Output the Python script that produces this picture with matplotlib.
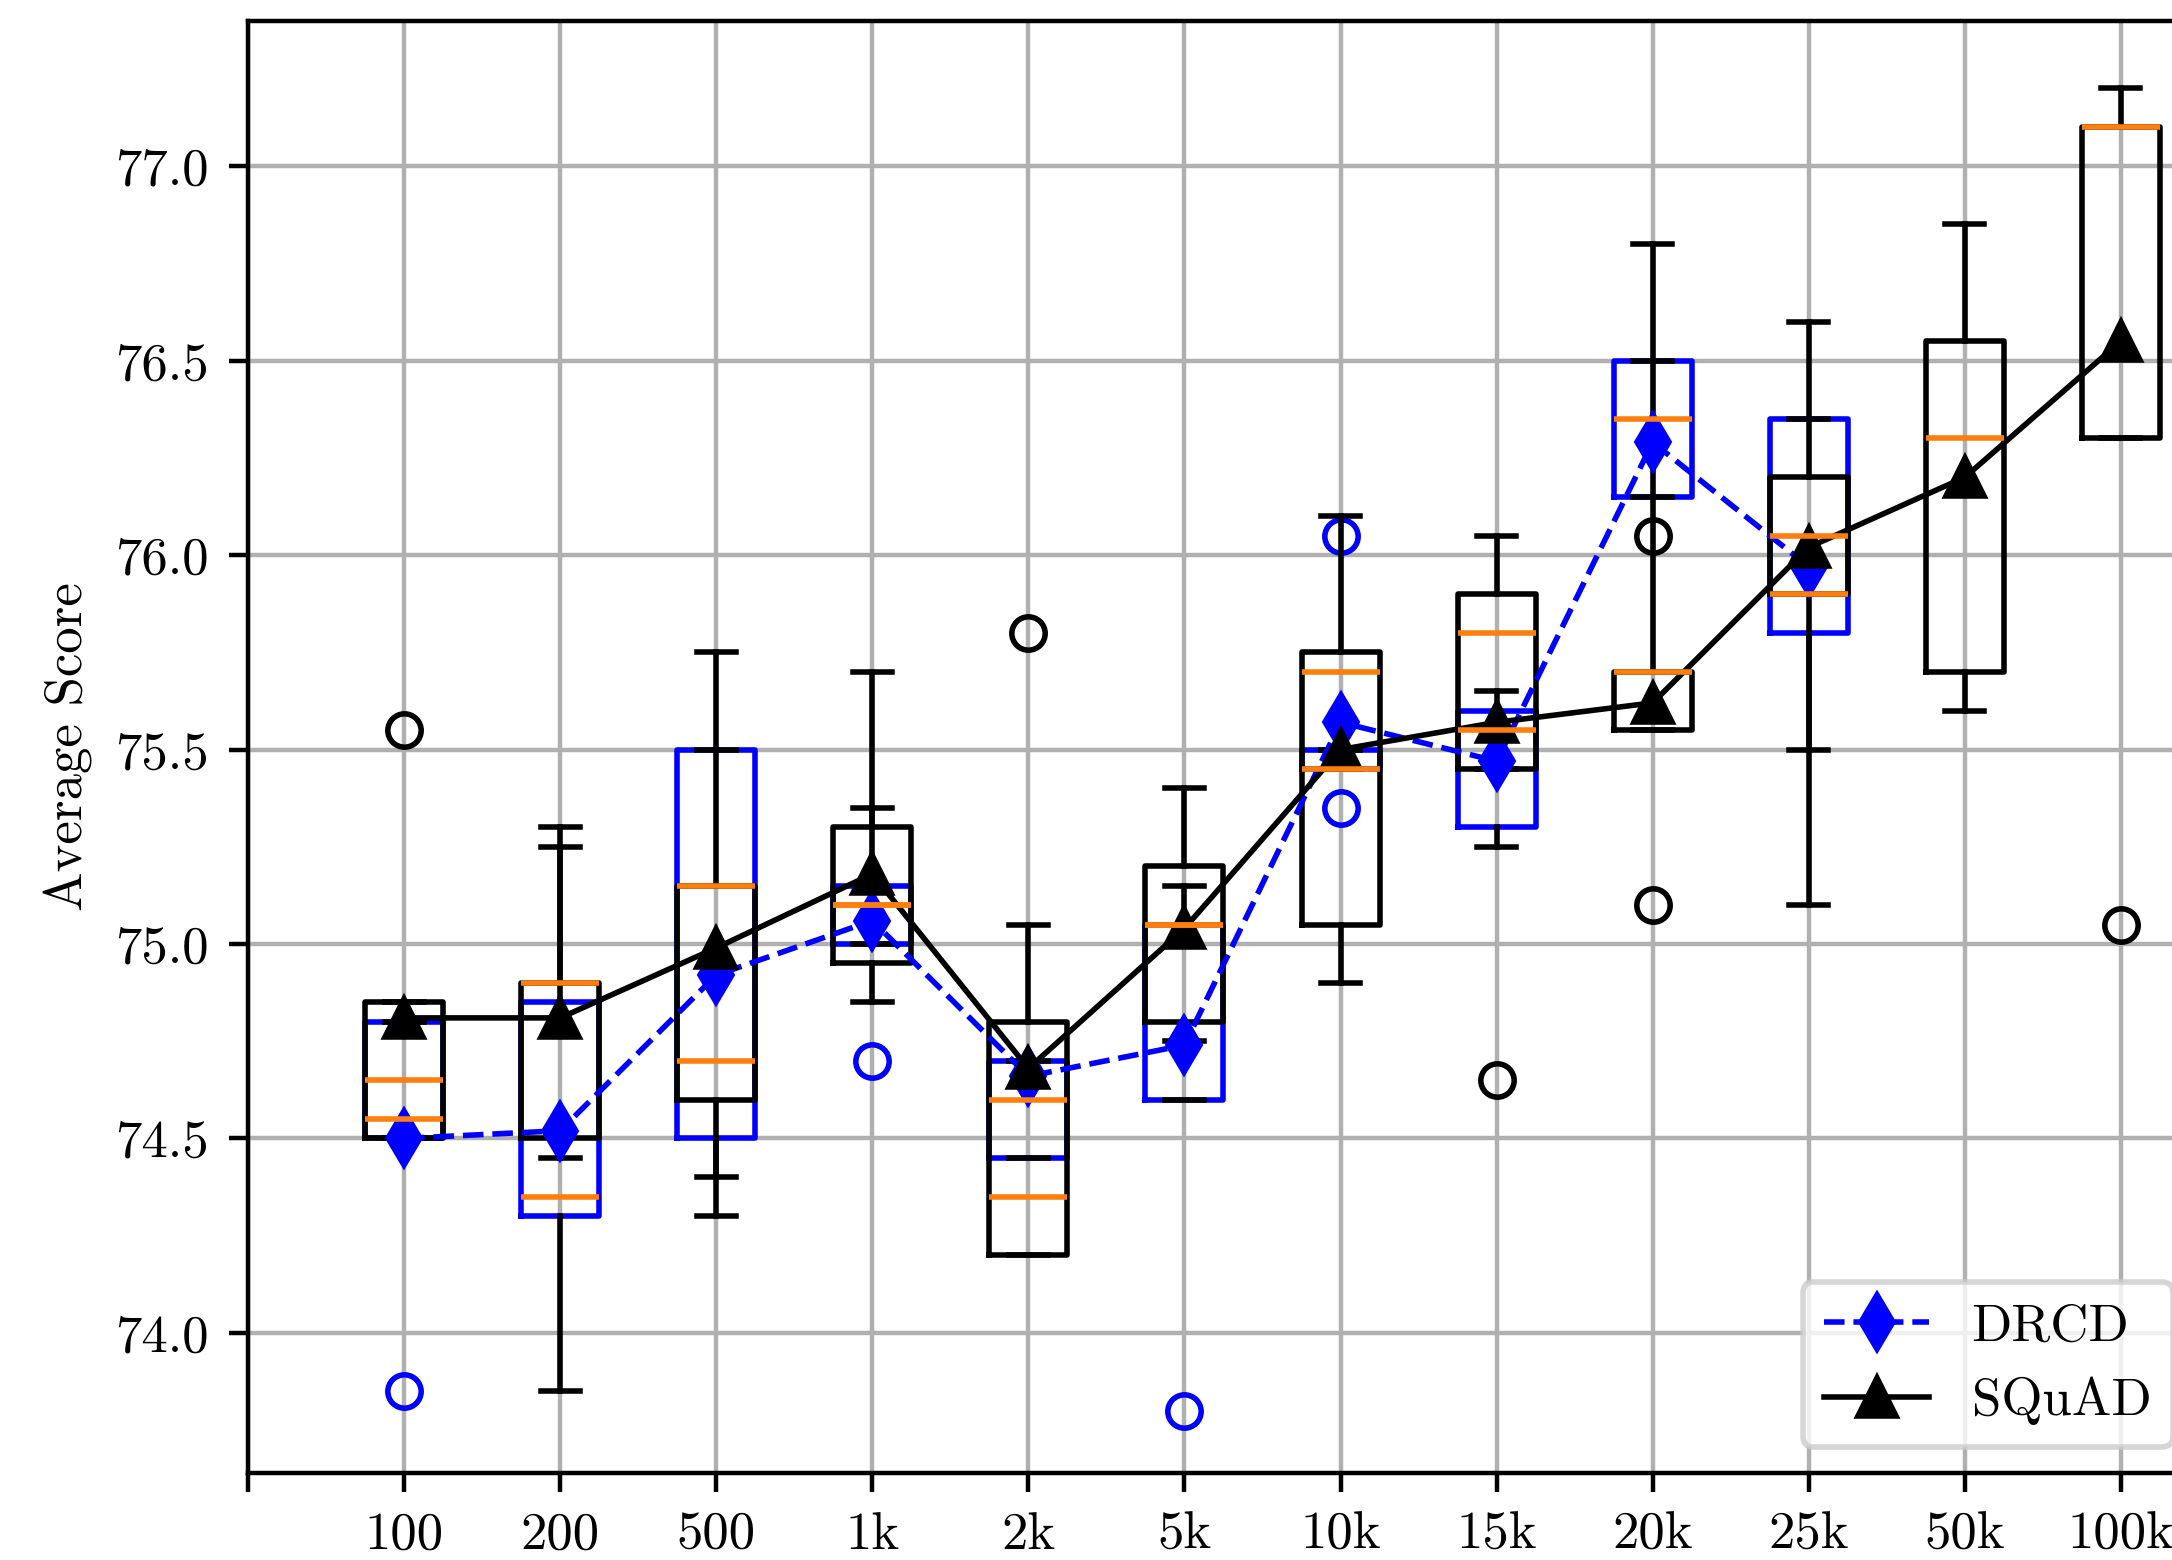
import numpy as np
import matplotlib
matplotlib.use("Agg")
import matplotlib.pyplot as plt
from matplotlib.ticker import FormatStrFormatter

plt.rcParams['font.family'] = 'serif'
plt.rcParams['font.serif'] = ['cmr10', 'DejaVu Serif']
plt.rcParams['mathtext.fontset'] = 'cm'
plt.rcParams['font.size'] = 9.5

# sizes of the training subsets
sizes = ['100', '200', '500', '1k', '2k', '5k', '10k', '15k', '20k', '25k', '50k', '100k']

# DRCD box statistics (no runs for 50k / 100k)
drcd_q1 = [74.5, 74.3, 74.5, 75.0, 74.45, 74.6, 75.45, 75.3, 76.15, 75.8]
drcd_med = [74.55, 74.35, 74.7, 75.1, 74.6, 75.05, 75.45, 75.55, 76.35, 76.05]
drcd_q3 = [74.8, 74.85, 75.5, 75.15, 74.7, 75.05, 75.5, 75.6, 76.5, 76.35]
drcd_lo = [74.5, 73.85, 74.3, 75.0, 74.45, 74.6, 75.45, 75.25, 76.15, 75.5]
drcd_hi = [74.8, 75.3, 75.5, 75.35, 74.7, 75.15, 75.5, 75.65, 76.5, 76.35]
drcd_fliers = [[73.85], [], [], [74.7], [], [73.8], [76.05, 75.35], [], [], []]
drcd_mean = [74.5, 74.52, 74.92, 75.06, 74.66, 74.74, 75.57, 75.47, 76.29, 75.97]

# SQuAD box statistics
squad_q1 = [74.5, 74.5, 74.6, 74.95, 74.2, 74.8, 75.05, 75.45, 75.55, 75.9, 75.7, 76.3]
squad_med = [74.65, 74.9, 75.15, 75.1, 74.35, 75.05, 75.7, 75.8, 75.7, 75.9, 76.3, 77.1]
squad_q3 = [74.85, 74.9, 75.15, 75.3, 74.8, 75.2, 75.75, 75.9, 75.7, 76.2, 76.55, 77.1]
squad_lo = [74.5, 74.45, 74.4, 74.85, 74.2, 74.75, 74.9, 75.45, 75.55, 75.1, 75.6, 76.3]
squad_hi = [74.85, 75.25, 75.75, 75.7, 75.05, 75.4, 76.1, 76.05, 76.8, 76.6, 76.85, 77.2]
squad_fliers = [[75.55], [], [], [], [75.8], [], [], [74.65], [76.05, 75.1], [], [], [75.05]]
squad_mean = [74.81, 74.81, 74.99, 75.18, 74.68, 75.04, 75.5, 75.57, 75.62, 76.02, 76.2, 76.55]


def make_stats(q1, med, q3, lo, hi, fl):
    return [dict(q1=a, med=b, q3=c, whislo=d, whishi=e, fliers=f)
            for a, b, c, d, e, f in zip(q1, med, q3, lo, hi, fl)]


fig = plt.figure(figsize=(5.43, 3.9))
ax = fig.add_axes([0.1142, 0.0558, 0.8982, 0.9307])

pos_d = np.arange(1, len(drcd_mean) + 1)
pos_s = np.arange(1, len(squad_mean) + 1)

ax.bxp(make_stats(drcd_q1, drcd_med, drcd_q3, drcd_lo, drcd_hi, drcd_fliers),
       positions=pos_d, widths=0.5, manage_ticks=False,
       boxprops=dict(color='blue'),
       flierprops=dict(marker='o', markeredgecolor='blue', markerfacecolor='none'))
ax.bxp(make_stats(squad_q1, squad_med, squad_q3, squad_lo, squad_hi, squad_fliers),
       positions=pos_s, widths=0.5, manage_ticks=False,
       boxprops=dict(color='black'),
       flierprops=dict(marker='o', markeredgecolor='black', markerfacecolor='none'))

ax.plot(pos_d, drcd_mean, 'd--', color='blue', lw=1.0, ms=7, label='DRCD')
ax.plot(pos_s, squad_mean, '^-', color='black', lw=1.0, ms=7, label='SQuAD')

ax.set_xlim(0, 12.5)
ax.set_ylim(73.64, 77.373)
ax.set_xticks(range(13))
ax.set_xticklabels([''] + sizes)
ax.yaxis.set_major_formatter(FormatStrFormatter('%.1f'))
ax.set_ylabel('Average Score')
ax.grid(True)
ax.legend(loc='lower right')

fig.savefig('out.png', dpi=400)
